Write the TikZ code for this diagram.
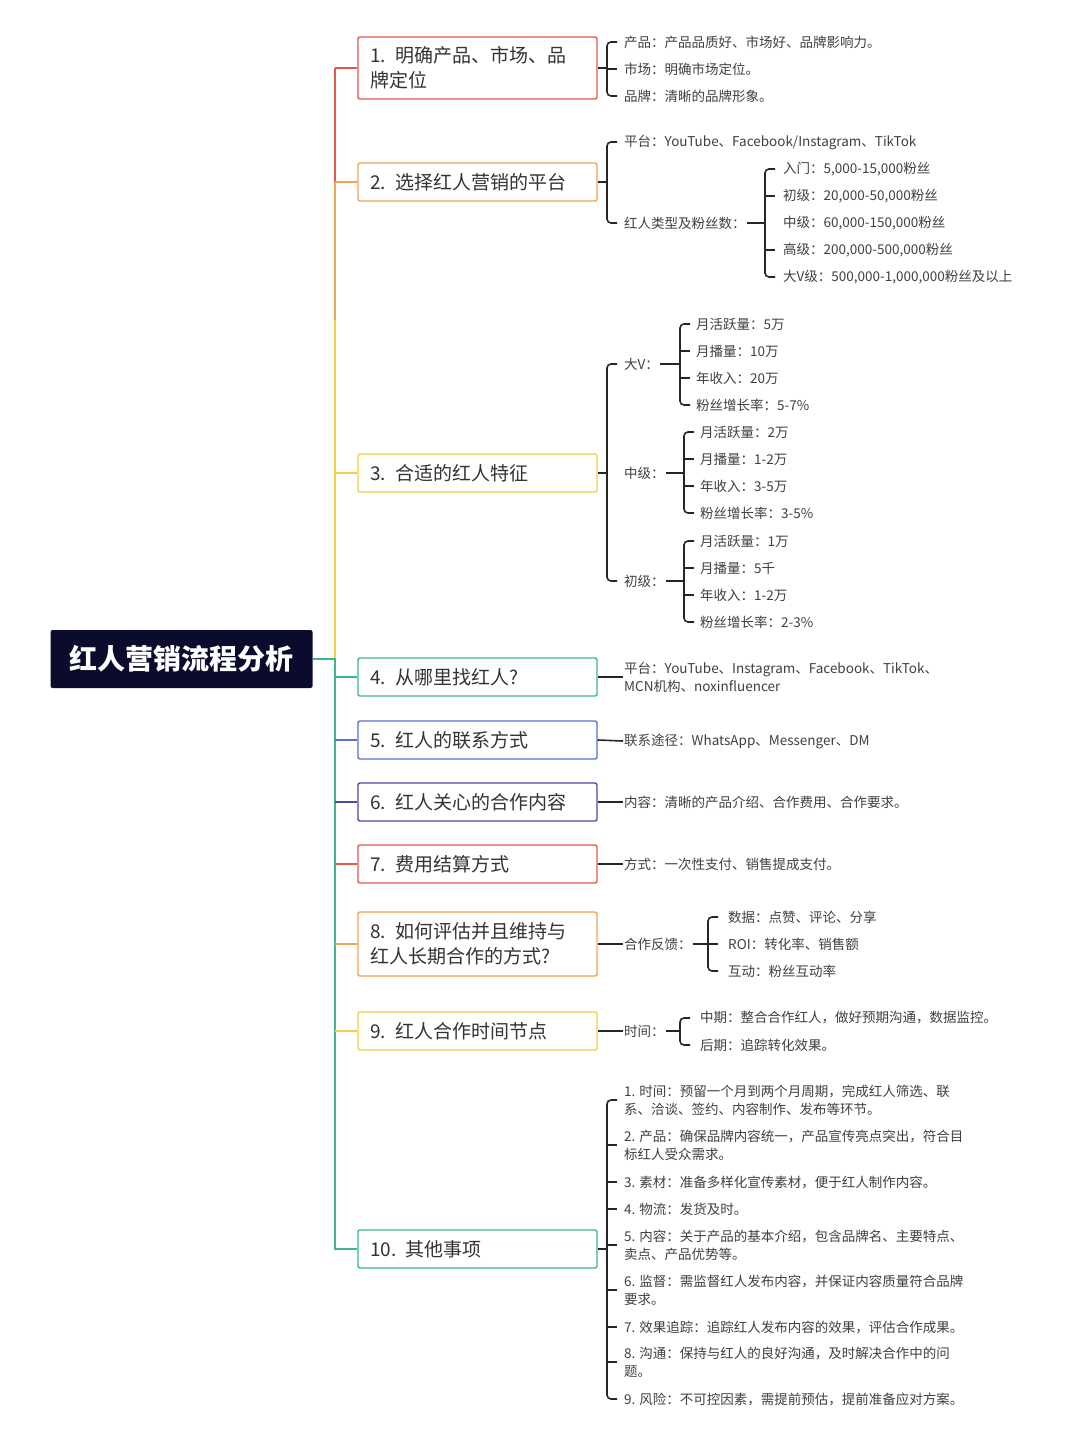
\documentclass[tikz,border=0pt]{standalone}
\usepackage{fontspec}
\setmainfont{Noto Sans CJK SC}
\definecolor{cR}{HTML}{E0584E}
\definecolor{cO}{HTML}{F2A455}
\definecolor{cY}{HTML}{F2D045}
\definecolor{cG}{HTML}{3DB88A}
\definecolor{cB}{HTML}{5B70D0}
\definecolor{cD}{HTML}{4A4AA8}
\definecolor{rootbg}{HTML}{0B0B2E}
\definecolor{txt}{HTML}{333333}
\definecolor{ltxt}{HTML}{404040}
\tikzset{
 box/.style={draw=#1, fill=white, rounded corners=2pt, line width=1.4pt, minimum width=239pt, text width=215pt, align=left, inner sep=0pt, font=\fontsize{19}{25}\selectfont, text=txt},
 lf/.style={anchor=west, inner sep=1pt, xshift=3pt, font=\fontsize{13.5}{18}\selectfont, text=ltxt, align=left},
 br/.style={line width=1.6pt, draw=black!85, rounded corners=4pt},
 tk/.style={line width=1.6pt, draw=black!85},
 tr/.style={line width=1.6pt, draw=#1}
}
\newcommand\brk[3]{\draw[br] (#1+10,#2) -- (#1,#2) -- (#1,#3) -- (#1+10,#3);}
\newcommand\tck[2]{\draw[tk] (#1,#2) -- (#1+10,#2);}
\begin{document}
\begin{tikzpicture}[x=1pt,y=-1pt]
\useasboundingbox[fill=white] (0,0) rectangle (1080,1440);
% root
\node[fill=rootbg, text=white, rounded corners=2pt, minimum width=262pt, minimum height=58pt, inner sep=0pt, font=\fontsize{28}{30}\selectfont\bfseries] (root) at (181.5,659) {红人营销流程分析};
% trunk
\draw[tr=cG] (root.east) -- (335,659);
\draw[tr=cR] (335,68) -- (335,182);
\draw[tr=cO] (335,182) -- (335,320);
\draw[tr=cY] (335,320) -- (335,660);
\draw[tr=cG] (335,658) -- (335,1250);
% boxes
\node[box=cR, minimum height=62pt] (b1) at (477.5,68) {1. 明确产品、市场、品\\牌定位};
\node[box=cO, minimum height=38pt] (b2) at (477.5,182) {2. 选择红人营销的平台};
\node[box=cY, minimum height=38pt] (b3) at (477.5,473) {3. 合适的红人特征};
\node[box=cG, minimum height=38pt] (b4) at (477.5,677) {4. 从哪里找红人?};
\node[box=cB, minimum height=38pt] (b5) at (477.5,740) {5. 红人的联系方式};
\node[box=cD, minimum height=38pt] (b6) at (477.5,802) {6. 红人关心的合作内容};
\node[box=cR, minimum height=38pt] (b7) at (477.5,864) {7. 费用结算方式};
\node[box=cO, minimum height=64pt] (b8) at (477.5,944) {8. 如何评估并且维持与\\红人长期合作的方式?};
\node[box=cY, minimum height=38pt] (b9) at (477.5,1031) {9. 红人合作时间节点};
\node[box=cG, minimum height=38pt] (b10) at (477.5,1249) {10. 其他事项};
\foreach \b/\c in {b1/cR,b2/cO,b3/cY,b4/cG,b5/cB,b6/cD,b7/cR,b8/cO,b9/cY,b10/cG}
  \draw[tr=\c] (335,0 |- \b.west) -- (\b.west);
% box1
\draw[tk] (b1.east) -- (607,68);
\brk{607}{42}{96}\tck{607}{69}
\node[lf] (l11) at (620,42) {产品：产品品质好、市场好、品牌影响力。};
\node[lf] (l12) at (620,69) {市场：明确市场定位。};
\node[lf] (l13) at (620,96) {品牌：清晰的品牌形象。};
% box2
\draw[tk] (b2.east) -- (607,182);
\brk{607}{142}{223}
\node[lf] (l21) at (620,142) {平台：YouTube、Facebook/Instagram、TikTok};
\node[lf] (l22) at (620,223) {红人类型及粉丝数：};
\draw[tk] (l22.east) -- (765,223);
\brk{765}{169}{277}\tck{765}{196}\tck{765}{250}
\node[lf] at (779,169) {入门：5,000-15,000粉丝};
\node[lf] at (779,196) {初级：20,000-50,000粉丝};
\node[lf] at (779,223) {中级：60,000-150,000粉丝};
\node[lf] at (779,250) {高级：200,000-500,000粉丝};
\node[lf] at (779,277) {大V级：500,000-1,000,000粉丝及以上};
% box3
\draw[tk] (b3.east) -- (607,473);
\brk{607}{364}{581}
\node[lf] (v1) at (620,364) {大V：};
\node[lf] (v2) at (620,473) {中级：};
\node[lf] (v3) at (620,581) {初级：};
\draw[tk] (v1.east) -- (680,364);
\brk{680}{324}{405}\tck{680}{351}\tck{680}{378}
\node[lf] at (692,324) {月活跃量：5万};
\node[lf] at (692,351) {月播量：10万};
\node[lf] at (692,378) {年收入：20万};
\node[lf] at (692,405) {粉丝增长率：5-7\%};
\draw[tk] (v2.east) -- (684,473);
\brk{684}{432}{513}\tck{684}{459}\tck{684}{486}
\node[lf] at (696,432) {月活跃量：2万};
\node[lf] at (696,459) {月播量：1-2万};
\node[lf] at (696,486) {年收入：3-5万};
\node[lf] at (696,513) {粉丝增长率：3-5\%};
\draw[tk] (v3.east) -- (684,581);
\brk{684}{541}{622}\tck{684}{568}\tck{684}{595}
\node[lf] at (696,541) {月活跃量：1万};
\node[lf] at (696,568) {月播量：5千};
\node[lf] at (696,595) {年收入：1-2万};
\node[lf] at (696,622) {粉丝增长率：2-3\%};
% box4-7
\node[lf] (l4) at (620,677) {平台：YouTube、Instagram、Facebook、TikTok、\\MCN机构、noxinfluencer};
\draw[tk] (b4.east) -- (l4.west);
\node[lf] (l5) at (620,741) {联系途径：WhatsApp、Messenger、DM};
\draw[tk] (b5.east) -- (l5.west);
\node[lf] (l6) at (620,802) {内容：清晰的产品介绍、合作费用、合作要求。};
\draw[tk] (b6.east) -- (l6.west);
\node[lf] (l7) at (620,864) {方式：一次性支付、销售提成支付。};
\draw[tk] (b7.east) -- (l7.west);
% box8
\node[lf] (l8) at (620,944) {合作反馈：};
\draw[tk] (b8.east) -- (l8.west);
\draw[tk] (l8.east) -- (708,944);
\brk{708}{917}{971}\tck{708}{944}
\node[lf] at (724,917) {数据：点赞、评论、分享};
\node[lf] at (724,944) {ROI：转化率、销售额};
\node[lf] at (724,971) {互动：粉丝互动率};
% box9
\node[lf] (l9) at (620,1031) {时间：};
\draw[tk] (b9.east) -- (l9.west);
\draw[tk] (l9.east) -- (680,1031);
\brk{680}{1018}{1045}
\node[lf] at (696,1018) {中期：整合合作红人，做好预期沟通，数据监控。};
\node[lf] at (696,1045) {后期：追踪转化效果。};
% box10
\draw[tk] (b10.east) -- (607,1249);
\brk{607}{1100}{1399}
\foreach \y in {1145,1182,1209,1245,1290,1327,1362} {\tck{607}{\y}}
\node[lf] at (620,1100) {1. 时间：预留一个月到两个月周期，完成红人筛选、联\\系、洽谈、签约、内容制作、发布等环节。};
\node[lf] at (620,1145) {2. 产品：确保品牌内容统一，产品宣传亮点突出，符合目\\标红人受众需求。};
\node[lf] at (620,1182) {3. 素材：准备多样化宣传素材，便于红人制作内容。};
\node[lf] at (620,1209) {4. 物流：发货及时。};
\node[lf] at (620,1245) {5. 内容：关于产品的基本介绍，包含品牌名、主要特点、\\卖点、产品优势等。};
\node[lf] at (620,1290) {6. 监督：需监督红人发布内容，并保证内容质量符合品牌\\要求。};
\node[lf] at (620,1327) {7. 效果追踪：追踪红人发布内容的效果，评估合作成果。};
\node[lf] at (620,1362) {8. 沟通：保持与红人的良好沟通，及时解决合作中的问\\题。};
\node[lf] at (620,1399) {9. 风险：不可控因素，需提前预估，提前准备应对方案。};
\end{tikzpicture}
\end{document}
